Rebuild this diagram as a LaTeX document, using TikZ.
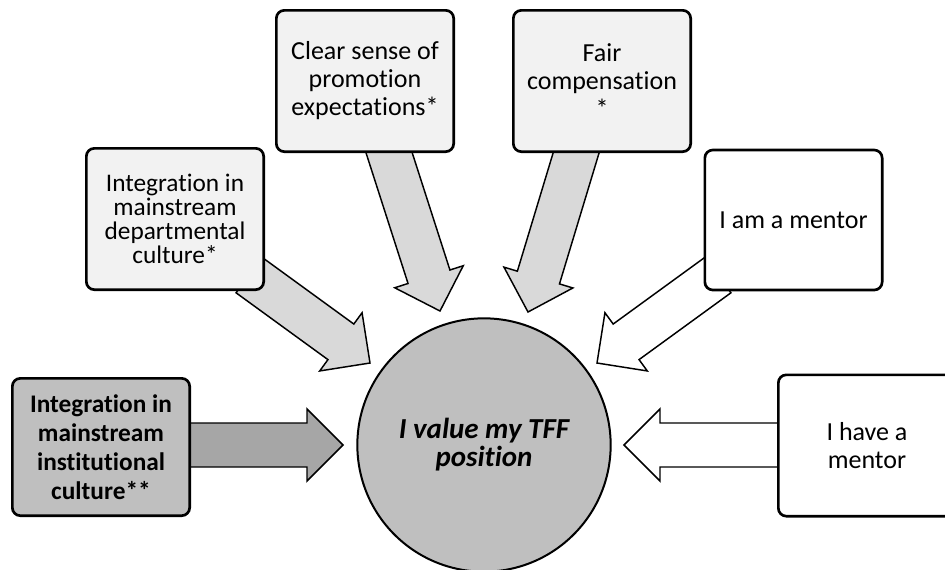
\documentclass[tikz,border=0pt]{standalone}
\usepackage{fontspec}
\setmainfont{Carlito}[Ligatures=NoCommon]
\usepackage{tikz}
\usetikzlibrary{calc}
\definecolor{boxlight}{HTML}{F2F2F2}
\definecolor{arrowlight}{HTML}{D9D9D9}
\definecolor{boxgrey}{HTML}{BFBFBF}
\definecolor{arrowgrey}{HTML}{A6A6A6}
% block arrow: [style] {tail} {tip}
\newcommand{\fatarrow}[3][]{%
    \path ($(#3)!27pt!(#2)$) coordinate (hb);
    \draw[#1] ($(#2)!16.5pt!90:(#3)$) -- ($(hb)!16.5pt!90:(#3)$) -- ($(hb)!27pt!90:(#3)$) -- (#3) -- ($(hb)!27pt!-90:(#3)$) -- ($(hb)!16.5pt!-90:(#3)$) -- ($(#2)!16.5pt!-90:(#3)$) -- cycle;
}
\tikzset{
    box/.style={draw=black,line width=2pt,rounded corners=6pt,align=center,minimum width=133pt,minimum height=106pt,inner sep=2pt,font=\fontsize{19.5}{21}\selectfont},
    fat/.style={draw=black,line width=1.1pt,line join=miter}
}
\begin{document}
\begin{tikzpicture}[x=0.75pt,y=-0.75pt]
    \clip (0,0) rectangle (945,569);

    \coordinate (instT) at (150,445);
    \coordinate (instH) at (343,445);
    \coordinate (deptT) at (249,275);
    \coordinate (deptH) at (370,363);
    \coordinate (promT) at (385,140);
    \coordinate (promH) at (440,311);
    \coordinate (compT) at (580,140);
    \coordinate (compH) at (528,312);
    \coordinate (amT) at (718,275);
    \coordinate (amH) at (597,363);
    \coordinate (hasT) at (800,445);
    \coordinate (hasH) at (624,445);

    \fatarrow[fat,fill=arrowgrey]{instT}{instH}
    \fatarrow[fat,fill=arrowlight]{deptT}{deptH}
    \fatarrow[fat,fill=arrowlight]{promT}{promH}
    \fatarrow[fat,fill=arrowlight]{compT}{compH}
    \fatarrow[fat,fill=white]{amT}{amH}
    \fatarrow[fat,fill=white]{hasT}{hasH}

    \node[box,fill=boxgrey,minimum height=103pt,font=\bfseries\fontsize{19}{21.75}\selectfont] (inst) at (101,447) {Integration in\\mainstream\\institutional\\culture**};
    \node[box,fill=boxlight,font=\fontsize{19}{18}\selectfont] (dept) at (175,219) {Integration in\\mainstream\\departmental\\culture*};
    \node[box,fill=boxlight] (prom) at (365,81) {Clear sense of\\promotion\\expectations*};
    \node[box,fill=boxlight] (comp) at (602,81) {Fair\\compensation\\*};
    \node[box,fill=white,minimum height=105pt] (am) at (793.5,220) {I am a mentor};
    \node[box,fill=white] (has) at (867,445.5) {I have a\\mentor};

    \node[circle,draw=black,line width=1.5pt,fill=boxgrey,minimum size=190pt,inner sep=0pt,align=center,font=\bfseries\itshape\fontsize{21.75}{21}\selectfont] (val) at (484,445) {I value my TFF\\position};
\end{tikzpicture}
\end{document}
